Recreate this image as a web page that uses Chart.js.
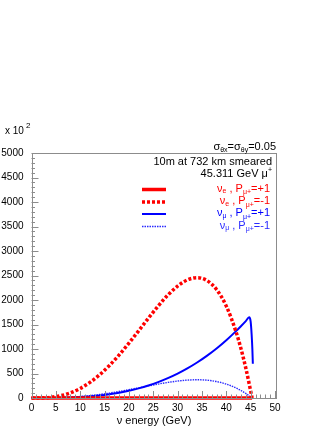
<!DOCTYPE html>
<html>
<head>
<meta charset="utf-8">
<script src="https://cdn.jsdelivr.net/npm/chart.js@4.4.1/dist/chart.umd.min.js"></script>
<style>
  html, body { margin: 0; padding: 0; background: #fff; }
  #wrap { width: 332px; height: 430px; position: relative; }
</style>
</head>
<body>
<div id="wrap"><canvas id="c" width="332" height="430"></canvas></div>
<script>
// neutrino energy (GeV) sample points
const energy = [0, 2, 4, 6, 8, 10, 12, 14, 16, 18, 20, 22, 24, 26, 28, 30, 32, 34, 36, 38, 40, 42, 43, 44, 45.3];
const nueMinus = [0, 2, 15, 47, 106, 195, 318, 475, 663, 880, 1119, 1371, 1628, 1875, 2100, 2284, 2410, 2455, 2399, 2214, 1875, 1350, 1012, 612, 0];
const numuMinus = [0, 0.3, 2.2, 7.1, 16, 29.6, 48.2, 71.9, 100.5, 133.4, 169.5, 207.8, 246.6, 284.1, 318, 346, 365, 372, 363.5, 335.5, 284, 204.7, 153, 93, 0];

const energyPlus = [0, 2, 4, 6, 8, 10, 12, 14, 16, 18, 20, 22, 24, 26, 28, 30, 32, 34, 36, 38, 40, 42, 43, 44, 44.7, 45.0, 45.2, 45.35, 45.45];
const numuPlus = [0, 0.2, 1.2, 4, 9.4, 18.4, 31.9, 50.6, 75.5, 107.5, 147.4, 196.2, 254.8, 324, 404.6, 497.6, 603.8, 724.3, 859.9, 1011, 1179.6, 1365.4, 1465, 1570, 1646, 1560, 1300, 1000, 700];

const energyNuePlus = [0, 10, 20, 30, 40, 45.3];
const nuePlus = [0, 0, 0, 0, 0, 0];

const xTicks = [0, 5, 10, 15, 20, 25, 30, 35, 40, 45, 50];
const yTicks = [0, 500, 1000, 1500, 2000, 2500, 3000, 3500, 4000, 4500, 5000];

const FONT = '"Liberation Sans", Arial, Helvetica, sans-serif';
const AXIS_COLOR = '#8c8c8c';

function pts(xs, ys) {
  return xs.map((x, i) => ({ x: x, y: ys[i] }));
}

// tick marks, frame and all the text labels
const decorPlugin = {
  id: 'decor',
  afterDatasetsDraw(chart) {
    const ctx = chart.ctx;
    const a = chart.chartArea;
    const xs = chart.scales.x;
    const ys = chart.scales.y;
    ctx.save();

    // frame
    ctx.strokeStyle = AXIS_COLOR;
    ctx.lineWidth = 1;
    ctx.strokeRect(Math.round(a.left) + 0.5, Math.round(a.top) + 0.5,
      Math.round(a.right - a.left), Math.round(a.bottom - a.top));

    // x ticks (inward)
    ctx.beginPath();
    for (let v = 0; v <= 50; v += 1) {
      const px = Math.round(xs.getPixelForValue(v)) + 0.5;
      const len = v % 5 === 0 ? 7 : 3.5;
      ctx.moveTo(px, a.bottom);
      ctx.lineTo(px, a.bottom - len);
    }
    // y ticks (inward)
    for (let v = 0; v <= 5000; v += 100) {
      const py = Math.round(ys.getPixelForValue(v)) + 0.5;
      const len = v % 500 === 0 ? 7 : 3.5;
      ctx.moveTo(a.left, py);
      ctx.lineTo(a.left + len, py);
    }
    ctx.stroke();

    ctx.fillStyle = '#000';
    ctx.textBaseline = 'middle';

    // axis title
    ctx.font = '11px ' + FONT;
    ctx.textAlign = 'center';
    ctx.fillText('\u03bd energy (GeV)', 154, 421);

    // exponent
    ctx.textAlign = 'left';
    ctx.font = '10px ' + FONT;
    ctx.fillText('x 10', 5, 131);
    ctx.font = '8px ' + FONT;
    ctx.fillText('2', 26, 126);

    // header lines (right aligned)
    drawRich(ctx, [
      ['\u03c3', 11, 0], ['\u03b8x', 7, 3], ['=\u03c3', 11, 0], ['\u03b8y', 7, 3], ['=0.05', 11, 0]
    ], 276, 147, '#000');
    drawRich(ctx, [['10m at 732 km smeared', 11, 0]], 272, 162, '#000');
    drawRich(ctx, [['45.311 GeV \u03bc', 11, 0], ['+', 7, -4]], 272, 174, '#000');

    // legend
    const leg = [
      { color: '#ff0000', dash: [], w: 3.5, sub: 'e', sign: '=+1' },
      { color: '#ff0000', dash: [3, 2], w: 3.5, sub: 'e', sign: '=-1' },
      { color: '#0000ff', dash: [], w: 2, sub: '\u03bc', sign: '=+1' },
      { color: '#2a2aff', dash: [1.5, 1], w: 1.4, sub: '\u03bc', sign: '=-1' }
    ];
    const legY = [189.5, 202, 214, 226.5];
    leg.forEach((l, i) => {
      ctx.beginPath();
      ctx.strokeStyle = l.color;
      ctx.lineWidth = l.w;
      ctx.setLineDash(l.dash);
      ctx.moveTo(142, legY[i]);
      ctx.lineTo(166, legY[i]);
      ctx.stroke();
      ctx.setLineDash([]);
      drawRich(ctx, [
        ['\u03bd', 11, 0], [l.sub, 7, 3], [' , P', 11, 0], ['\u03bc+', 7, 4], [l.sign, 11, 0]
      ], 270, legY[i] - 1, l.color);
    });

    ctx.restore();
  }
};

// draws pieces of text [string, size, dy] right aligned at x
function drawRich(ctx, parts, right, y, color) {
  ctx.fillStyle = color;
  ctx.textAlign = 'left';
  ctx.textBaseline = 'middle';
  let total = 0;
  parts.forEach(p => {
    ctx.font = p[1] + 'px ' + FONT;
    total += ctx.measureText(p[0]).width;
  });
  let x = right - total;
  parts.forEach(p => {
    ctx.font = p[1] + 'px ' + FONT;
    ctx.fillText(p[0], x, y + p[2]);
    x += ctx.measureText(p[0]).width;
  });
}

new Chart(document.getElementById('c'), {
  type: 'scatter',
  data: {
    datasets: [
      {
        data: pts(energyNuePlus, nuePlus),
        showLine: true, borderColor: '#ff0000', borderWidth: 3.5,
        pointRadius: 0, clip: 6, order: 0
      },
      {
        data: pts(energy, nueMinus),
        showLine: true, borderColor: '#ff0000', borderWidth: 3.5, borderDash: [3, 2],
        pointRadius: 0, cubicInterpolationMode: 'monotone', clip: 6, order: 1
      },
      {
        data: pts(energyPlus, numuPlus),
        showLine: true, borderColor: '#0000ff', borderWidth: 2,
        pointRadius: 0, cubicInterpolationMode: 'monotone', clip: 6, order: 2
      },
      {
        data: pts(energy, numuMinus),
        showLine: true, borderColor: '#2a2aff', borderWidth: 1.4, borderDash: [1.5, 1],
        pointRadius: 0, cubicInterpolationMode: 'monotone', clip: 6, order: 3
      }
    ]
  },
  options: {
    responsive: false,
    animation: false,
    layout: { padding: { top: 153, right: 57, left: 0, bottom: 0 } },
    plugins: { legend: { display: false }, tooltip: { enabled: false } },
    scales: {
      x: {
        type: 'linear', min: 0, max: 50,
        afterBuildTicks: s => { s.ticks = xTicks.map(v => ({ value: v })); },
        afterFit: s => { s.height = 32; },
        grid: { display: false, drawTicks: false },
        border: { display: false },
        ticks: { color: '#000', font: { size: 10, family: FONT }, padding: 4, maxRotation: 0,
          callback: v => String(v) }
      },
      y: {
        type: 'linear', min: 0, max: 5000,
        afterBuildTicks: s => { s.ticks = yTicks.map(v => ({ value: v })); },
        afterFit: s => { s.width = 31.5; },
        grid: { display: false, drawTicks: false },
        border: { display: false },
        ticks: { color: '#000', font: { size: 10, family: FONT }, padding: 8,
          callback: v => String(v) }
      }
    }
  },
  plugins: [decorPlugin]
});
</script>
</body>
</html>
